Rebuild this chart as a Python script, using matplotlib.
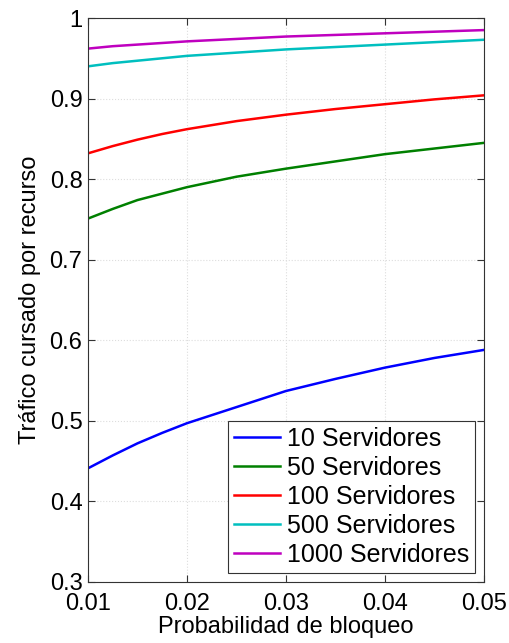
import numpy as np
import matplotlib
matplotlib.use("Agg")
from matplotlib import pyplot as plt

plt.rcParams['font.family'] = ['Liberation Sans', 'DejaVu Sans']

# blocking probability (x) and carried traffic per server for each system size
p_block = [0.01, 0.0125, 0.015, 0.0175, 0.02, 0.025, 0.03, 0.035, 0.04, 0.045, 0.05]
t_10 = [0.441, 0.457, 0.472, 0.485, 0.497, 0.517, 0.537, 0.552, 0.566, 0.578, 0.588]
t_50 = [0.751, 0.763, 0.774, 0.782, 0.790, 0.803, 0.813, 0.822, 0.831, 0.838, 0.845]
t_100 = [0.832, 0.841, 0.849, 0.856, 0.862, 0.872, 0.880, 0.887, 0.893, 0.899, 0.904]
t_500 = [0.940, 0.944, 0.947, 0.950, 0.953, 0.957, 0.961, 0.964, 0.967, 0.970, 0.973]
t_1000 = [0.962, 0.965, 0.967, 0.969, 0.971, 0.974, 0.977, 0.979, 0.981, 0.983, 0.985]
labels = ['10 Servidores', '50 Servidores', '100 Servidores',
          '500 Servidores', '1000 Servidores']
colors = ['#0000ff', '#008000', '#ff0000', '#00bfbf', '#bf00bf']

fig = plt.figure(figsize=(5.1, 6.43), dpi=100)
ax = fig.add_axes([0.1725, 0.095, 0.7765, 0.877])

for ys, lab, c in zip([t_10, t_50, t_100, t_500, t_1000], labels, colors):
    ax.plot(p_block, ys, color=c, lw=1.8, label=lab)

ax.set_xlim(0.01, 0.05)
ax.set_ylim(0.3, 1.0)
ax.set_xticks([0.01, 0.02, 0.03, 0.04, 0.05])
ax.set_xticklabels(['0.01', '0.02', '0.03', '0.04', '0.05'])
ax.set_yticks(np.arange(0.3, 1.01, 0.1))
ax.set_yticklabels(['0.3', '0.4', '0.5', '0.6', '0.7', '0.8', '0.9', '1'])
ax.tick_params(direction='in', top=True, right=True, length=5,
               labelsize=17, pad=4, color='#333333')
ax.tick_params(axis='x', pad=8)
ax.grid(True, linestyle=':', color='#dddddd', lw=0.8)
for s in ax.spines.values():
    s.set_color('#333333')
    s.set_linewidth(0.8)

ax.set_xlabel('Probabilidad de bloqueo', fontsize=17, labelpad=1)
ax.set_ylabel('Tráfico cursado por recurso', fontsize=17, labelpad=6)

leg = ax.legend(loc='lower right', fontsize=18, fancybox=False,
                edgecolor='#333333', framealpha=1, handlelength=1.85,
                handletextpad=0.25, labelspacing=0.2, borderpad=0.25,
                borderaxespad=0.35)
leg.get_frame().set_linewidth(0.8)

fig.savefig('out.png', dpi=100)
